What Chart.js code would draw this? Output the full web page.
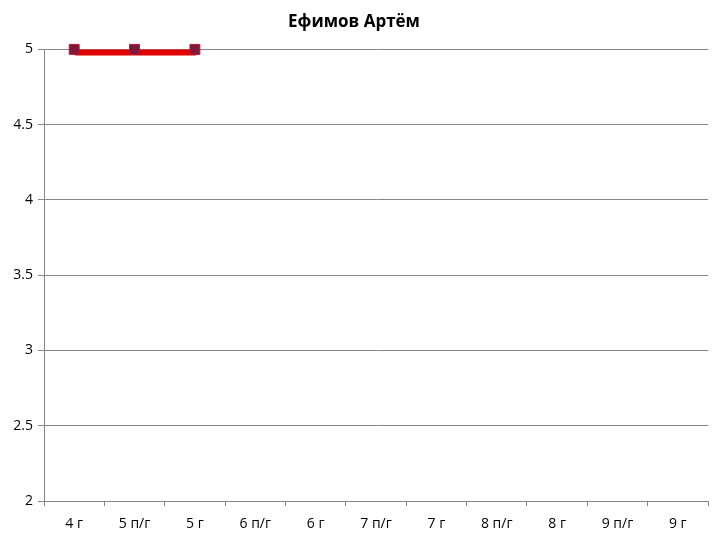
<!DOCTYPE html>
<html>
<head>
<meta charset="utf-8">
<script src="https://cdn.jsdelivr.net/npm/chart.js@4/dist/chart.umd.min.js"></script>
<style>
  body { margin: 0; background: #fff; }
  #wrap { width: 720px; height: 540px; }
</style>
</head>
<body>
<div id="wrap"><canvas id="mycanvas"></canvas></div>
<script>
var title = "Ефимов Артём";
var labels = ["4 г", "5 п/г", "5 г", "6 п/г", "6 г", "7 п/г", "7 г", "8 п/г", "8 г", "9 п/г", "9 г"];
var grades = [5, 5, 5, null, null, null, null, null, null, null, null];
var yTicks = [2, 2.5, 3, 3.5, 4, 4.5, 5];

// the red line sits a few px under the markers, like a shadow
var shiftLine = {
	id: "shiftLine",
	beforeDatasetDraw: function(chart, args) {
		if (args.index === 0) {
			chart.ctx.save();
			chart.ctx.translate(1, 3);
		}
	},
	afterDatasetDraw: function(chart, args) {
		if (args.index === 0) {
			chart.ctx.restore();
		}
	}
};

var ctx = document.getElementById("mycanvas");
var LineGraph = new Chart(ctx, {
	type: 'line',
	data: {
		labels: labels,
		datasets: [
			{
				label: title,
				data: grades,
				borderColor: "#e00000",
				borderWidth: 6,
				pointRadius: 0,
				fill: false,
				tension: 0,
				clip: false,
				order: 1
			},
			{
				label: title,
				data: grades,
				showLine: false,
				pointStyle: 'rect',
				pointRadius: 7,
				pointBackgroundColor: "#7d1a3c",
				pointBorderColor: "#c8102e",
				pointBorderWidth: 1,
				clip: false,
				order: 0
			}
		]
	},
	options: {
		responsive: true,
		maintainAspectRatio: false,
		animation: false,
		layout: { padding: { top: 0, right: 12, left: 0, bottom: 0 } },
		plugins: {
			legend: { display: false },
			tooltip: { enabled: false },
			title: {
				display: true,
				text: title,
				color: "#000",
				font: { family: "Open Sans", size: 17, weight: "bold" },
				padding: { top: 12, bottom: 17 }
			}
		},
		scales: {
			x: {
				offset: true,
				grid: {
					offset: true,
					drawOnChartArea: false,
					drawTicks: true,
					tickLength: 5,
					color: "#868686"
				},
				border: { color: "#868686" },
				ticks: {
					color: "#000",
					font: { family: "Open Sans", size: 14 },
					padding: 10,
					maxRotation: 0
				},
				afterFit: function(scale) { scale.height = 39; }
			},
			y: {
				min: 2,
				max: 5,
				afterBuildTicks: function(scale) {
					scale.ticks = yTicks.map(function(v) { return { value: v }; });
				},
				grid: {
					color: "#868686",
					tickLength: 6
				},
				border: { color: "#868686" },
				ticks: {
					color: "#000",
					font: { family: "Open Sans", size: 14 },
					padding: 5,
					callback: function(v) { return String(v); }
				},
				afterFit: function(scale) { scale.width = 44; }
			}
		}
	},
	plugins: [shiftLine]
});
</script>
</body>
</html>
